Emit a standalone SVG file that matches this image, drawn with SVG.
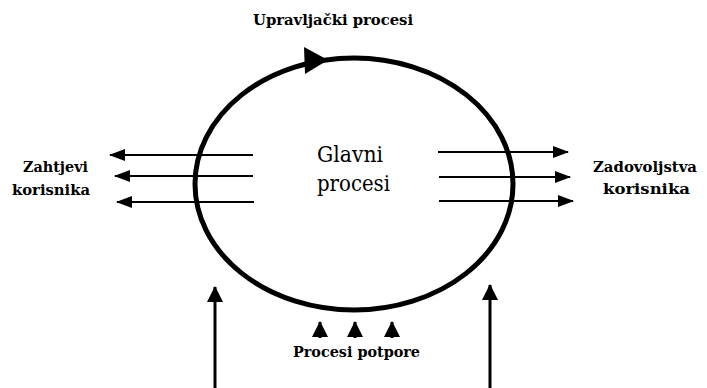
<svg xmlns="http://www.w3.org/2000/svg" width="707" height="388" viewBox="0 0 707 388">
<defs>
<style>
text{font-family:'DejaVu Serif',serif;fill:#000}
.lbl{font-weight:bold;font-size:15px}
.main{font-size:22px}
.ln{stroke:#000;stroke-width:2;fill:none}
.vl{stroke:#000;stroke-width:3;fill:none}
</style>
<marker id="ah" viewBox="0 0 16 12" refX="15" refY="6" markerWidth="16" markerHeight="12" markerUnits="userSpaceOnUse" orient="auto">
<path d="M0,0 L16,6 L0,12 Z" fill="#000"/>
</marker>
<marker id="ahv" viewBox="0 0 16 16" refX="15" refY="8" markerWidth="16" markerHeight="16" markerUnits="userSpaceOnUse" orient="auto">
<path d="M0,0 L16,8 L0,16 Z" fill="#000"/>
</marker>
</defs>
<rect width="707" height="388" fill="#fff"/>
<g id="glavni">
<ellipse cx="354" cy="184" rx="159" ry="126" fill="none" stroke="#000" stroke-width="5"/>
<path d="M304,47 L328,60 L305,74 Z" fill="#000"/>
<text class="main" font-family="DejaVu Serif, serif" x="317" y="162" textLength="66" lengthAdjust="spacingAndGlyphs">Glavni</text>
<text class="main" font-family="DejaVu Serif, serif" x="317" y="191" textLength="73" lengthAdjust="spacingAndGlyphs">procesi</text>
</g>
<g id="upravljacki">
<text class="lbl" font-family="DejaVu Serif, serif" x="253" y="25" textLength="160" lengthAdjust="spacingAndGlyphs">Upravljački procesi</text>
</g>
<g id="zahtjevi">
<text class="lbl" font-family="DejaVu Serif, serif" x="23" y="172" textLength="65" lengthAdjust="spacingAndGlyphs">Zahtjevi</text>
<text class="lbl" font-family="DejaVu Serif, serif" x="12" y="195" textLength="78" lengthAdjust="spacingAndGlyphs">korisnika</text>
</g>
<g id="zadovoljstva">
<text class="lbl" font-family="DejaVu Serif, serif" x="593" y="172" textLength="104" lengthAdjust="spacingAndGlyphs">Zadovoljstva</text>
<text class="lbl" font-family="DejaVu Serif, serif" x="603" y="194" textLength="87" lengthAdjust="spacingAndGlyphs">korisnika</text>
</g>
<g id="potpore">
<text class="lbl" font-family="DejaVu Serif, serif" x="293" y="357" textLength="127" lengthAdjust="spacingAndGlyphs">Procesi potpore</text>
</g>
<g id="connectors">
<line class="ln" x1="253" y1="155" x2="110" y2="155" marker-end="url(#ah)"/>
<line class="ln" x1="253" y1="176" x2="115" y2="176" marker-end="url(#ah)"/>
<line class="ln" x1="254" y1="202" x2="117" y2="202" marker-end="url(#ah)"/>
<line class="ln" x1="438" y1="152" x2="568" y2="152" marker-end="url(#ah)"/>
<line class="ln" x1="439" y1="177" x2="570" y2="177" marker-end="url(#ah)"/>
<line class="ln" x1="439" y1="201" x2="573" y2="201" marker-end="url(#ah)"/>
<line class="vl" x1="215" y1="388" x2="215" y2="287" marker-end="url(#ahv)"/>
<line class="vl" x1="490" y1="388" x2="490" y2="285" marker-end="url(#ahv)"/>
<line class="vl" x1="320" y1="338" x2="320" y2="322" marker-end="url(#ahv)"/>
<line class="vl" x1="355" y1="338" x2="355" y2="322" marker-end="url(#ahv)"/>
<line class="vl" x1="392" y1="338" x2="392" y2="322" marker-end="url(#ahv)"/>
</g>
</svg>
